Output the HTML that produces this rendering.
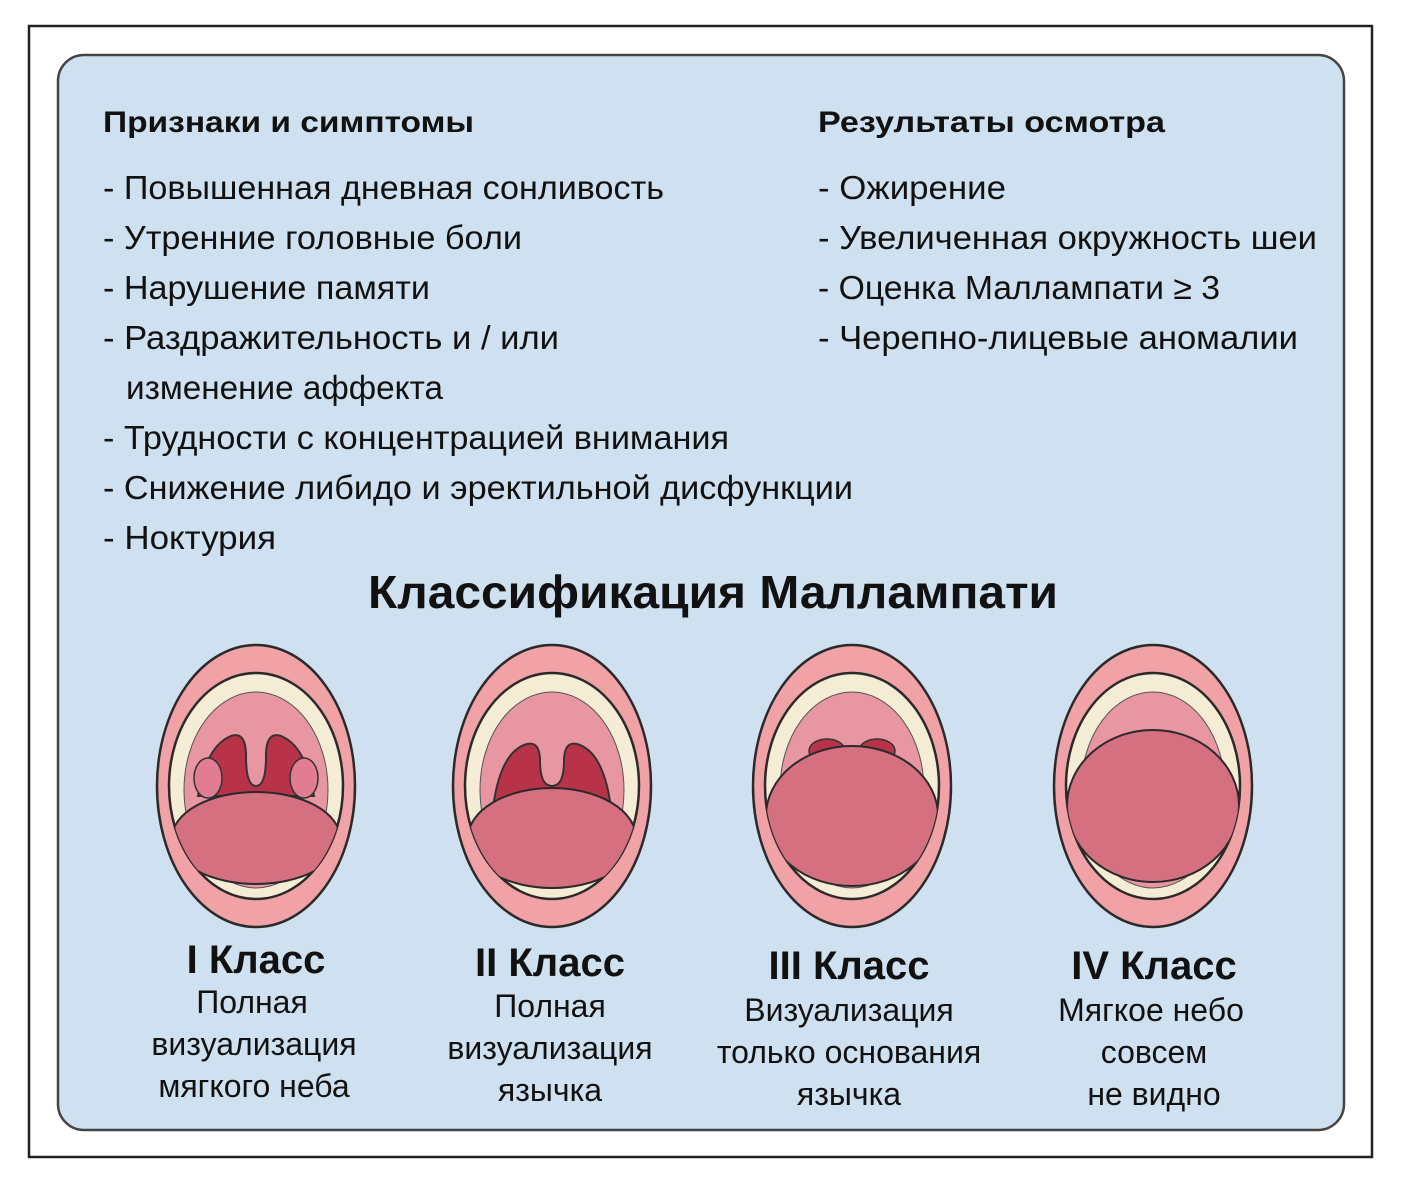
<!DOCTYPE html>
<html><head><meta charset="utf-8"><style>
html,body{margin:0;padding:0;background:#fff;}
svg{display:block}
text{font-family:"Liberation Sans","DejaVu Sans",sans-serif;fill:#111}
.h{font-weight:bold;font-size:30px}
.b{font-size:33px}
.t{font-weight:bold;font-size:46px}
.c{font-weight:bold;font-size:40px}
.d{font-size:32px}
</style></head><body>
<svg width="1401" height="1189" viewBox="0 0 1401 1189" xmlns="http://www.w3.org/2000/svg">
<defs>
<clipPath id="op"><ellipse cx="0" cy="0" rx="87" ry="113"/></clipPath>
<g id="base">
<ellipse cx="0" cy="0" rx="99" ry="141" fill="#f0a2a6" stroke="#2a2a2a" stroke-width="2.5"/>
<ellipse cx="0" cy="0" rx="87" ry="113" fill="#f5ecd6" stroke="#2a2a2a" stroke-width="2.5"/>
<ellipse cx="0" cy="4" rx="72" ry="98" fill="#e896a2" stroke="#555" stroke-width="1"/>
</g>
</defs>
<rect x="29" y="26" width="1343" height="1131" fill="#fff" stroke="#222" stroke-width="2.5"/>
<rect x="58" y="55" width="1286" height="1075" rx="26" fill="#cfe1f0" stroke="#444" stroke-width="2.5"/>

<text class="h" x="103" y="132" textLength="371" lengthAdjust="spacingAndGlyphs">Признаки и симптомы</text>
<text class="b" x="103" y="199" textLength="561" lengthAdjust="spacingAndGlyphs">- Повышенная дневная сонливость</text>
<text class="b" x="103" y="249" textLength="419" lengthAdjust="spacingAndGlyphs">- Утренние головные боли</text>
<text class="b" x="103" y="299" textLength="327" lengthAdjust="spacingAndGlyphs">- Нарушение памяти</text>
<text class="b" x="103" y="349" textLength="456" lengthAdjust="spacingAndGlyphs">- Раздражительность и / или</text>
<text class="b" x="126" y="399" textLength="317" lengthAdjust="spacingAndGlyphs">изменение аффекта</text>
<text class="b" x="103" y="449" textLength="626" lengthAdjust="spacingAndGlyphs">- Трудности с концентрацией внимания</text>
<text class="b" x="103" y="499" textLength="750" lengthAdjust="spacingAndGlyphs">- Снижение либидо и эректильной дисфункции</text>
<text class="b" x="103" y="549" textLength="173" lengthAdjust="spacingAndGlyphs">- Ноктурия</text>

<text class="h" x="818" y="132" textLength="347" lengthAdjust="spacingAndGlyphs">Результаты осмотра</text>
<text class="b" x="818" y="199" textLength="188" lengthAdjust="spacingAndGlyphs">- Ожирение</text>
<text class="b" x="818" y="249" textLength="499" lengthAdjust="spacingAndGlyphs">- Увеличенная окружность шеи</text>
<text class="b" x="818" y="299" textLength="402" lengthAdjust="spacingAndGlyphs">- Оценка Маллампати ≥ 3</text>
<text class="b" x="818" y="349" textLength="480" lengthAdjust="spacingAndGlyphs">- Черепно-лицевые аномалии</text>

<text class="t" x="368" y="608" textLength="690" lengthAdjust="spacingAndGlyphs">Классификация Маллампати</text>

<g transform="translate(256,786)">
<use href="#base"/>
<g clip-path="url(#op)">
<path d="M-58 10 Q-50 -40 -25 -50 Q-10 -55 -10 -30 Q-10 0 0 0 Q10 0 10 -30 Q10 -55 25 -50 Q50 -40 58 10Z" fill="#b8334a" stroke="#333" stroke-width="2"/>
<ellipse cx="-48" cy="-8" rx="14" ry="20" fill="#e07d92" stroke="#333" stroke-width="1.5"/>
<ellipse cx="48" cy="-8" rx="14" ry="20" fill="#e07d92" stroke="#333" stroke-width="1.5"/>
<ellipse cx="0" cy="52" rx="84" ry="46" fill="#d4707f" stroke="#2a2a2a" stroke-width="2"/>
</g>
</g>
<g transform="translate(552,786)">
<use href="#base"/>
<g clip-path="url(#op)">
<path d="M-58 15 Q-50 -35 -25 -42 Q-12 -45 -12 -25 Q-12 0 0 0 Q12 0 12 -25 Q12 -45 25 -42 Q50 -35 58 15Z" fill="#b8334a" stroke="#333" stroke-width="2"/>
<ellipse cx="0" cy="52" rx="84" ry="50" fill="#d4707f" stroke="#2a2a2a" stroke-width="2"/>
</g>
</g>
<g transform="translate(852,786)">
<use href="#base"/>
<g clip-path="url(#op)">
<ellipse cx="-25" cy="-35" rx="18" ry="12" fill="#b8334a" stroke="#333" stroke-width="1.5"/>
<ellipse cx="25" cy="-35" rx="18" ry="12" fill="#b8334a" stroke="#333" stroke-width="1.5"/>
<ellipse cx="0" cy="30" rx="86" ry="70" fill="#d4707f" stroke="#2a2a2a" stroke-width="2"/>
</g>
</g>
<g transform="translate(1153,786)">
<use href="#base"/>
<g clip-path="url(#op)">
<ellipse cx="0" cy="20" rx="86" ry="76" fill="#d4707f" stroke="#2a2a2a" stroke-width="2"/>
</g>
</g>

<g text-anchor="middle">
<text class="c" x="256" y="973">I Класс</text>
<text class="d" x="252" y="1013">Полная</text>
<text class="d" x="254" y="1055">визуализация</text>
<text class="d" x="254" y="1097">мягкого неба</text>

<text class="c" x="550" y="976">II Класс</text>
<text class="d" x="550" y="1017">Полная</text>
<text class="d" x="550" y="1059">визуализация</text>
<text class="d" x="550" y="1101">язычка</text>

<text class="c" x="849" y="979">III Класс</text>
<text class="d" x="849" y="1021">Визуализация</text>
<text class="d" x="849" y="1063">только основания</text>
<text class="d" x="849" y="1105">язычка</text>

<text class="c" x="1154" y="979">IV Класс</text>
<text class="d" x="1151" y="1021">Мягкое небо</text>
<text class="d" x="1154" y="1063">совсем</text>
<text class="d" x="1154" y="1105">не видно</text>
</g>
</svg>
</body></html>
